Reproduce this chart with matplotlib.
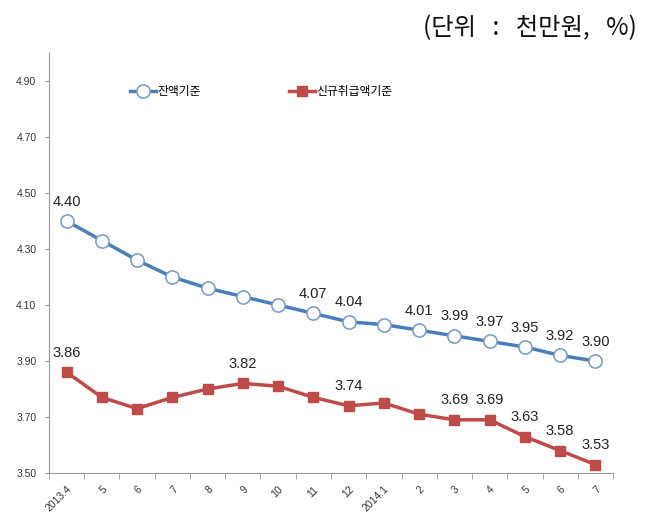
import matplotlib.pyplot as plt
import numpy as np

plt.rcParams['font.family'] = ['Noto Sans CJK KR', 'DejaVu Sans']

months = ['2013.4', '5', '6', '7', '8', '9', '10', '11', '12',
          '2014.1', '2', '3', '4', '5', '6', '7']
balance = [4.40, 4.33, 4.26, 4.20, 4.16, 4.13, 4.10, 4.07, 4.04,
           4.03, 4.01, 3.99, 3.97, 3.95, 3.92, 3.90]
new_loans = [3.86, 3.77, 3.73, 3.77, 3.80, 3.82, 3.81, 3.77, 3.74,
             3.75, 3.71, 3.69, 3.69, 3.63, 3.58, 3.53]
# which points carry a value label
balance_labeled = [0, 7, 8, 10, 11, 12, 13, 14, 15]
new_labeled = [0, 5, 8, 11, 12, 13, 14, 15]

blue = '#4a7ebb'
red = '#be4b48'
num_font = ['Liberation Sans', 'DejaVu Sans']

fig = plt.figure(figsize=(6.48, 5.17), dpi=100)
ax = fig.add_axes([0.0756, 0.0851, 0.8704, 0.8124])

x = np.arange(len(months))
ax.plot(x, balance, color=blue, lw=2.5, marker='o', ms=9.5,
        mfc='white', mec='#7f9fc8', mew=1.2, label='잔액기준')
ax.plot(x, new_loans, color=red, lw=2.5, marker='s', ms=7,
        mfc=red, mec=red, label='신규취급액기준')

for i in balance_labeled:
    ax.annotate(f'{balance[i]:.2f}', (x[i], balance[i]), xytext=(0, 14),
                textcoords='offset points', ha='center', va='center',
                fontsize=10.5, color='#222222', family=num_font)
for i in new_labeled:
    ax.annotate(f'{new_loans[i]:.2f}', (x[i], new_loans[i]), xytext=(0, 14),
                textcoords='offset points', ha='center', va='center',
                fontsize=10.5, color='#222222', family=num_font)

ax.set_xlim(-0.5, len(months) - 0.5)
ax.set_ylim(3.5, 5.0)
yt = np.arange(3.5, 4.91, 0.2)
ax.set_yticks(yt)
ax.set_yticklabels([f'{v:.2f}' for v in yt], fontsize=7.5, color='#333333',
                   family=num_font)
ax.set_xticks(x)
ax.set_xticklabels(months, rotation=45, ha='right', rotation_mode='anchor',
                   fontsize=7.5, color='#333333', family=num_font)
ax.tick_params(axis='x', which='major', length=0, pad=8)
ax.set_xticks(np.arange(-0.5, len(months)), minor=True)
ax.tick_params(axis='x', which='minor', length=4, color='#999999')
ax.tick_params(axis='y', length=3, color='#999999', pad=6)

for s in ['top', 'right']:
    ax.spines[s].set_visible(False)
for s in ['left', 'bottom']:
    ax.spines[s].set_color('#999999')

ax.legend(loc='upper left', bbox_to_anchor=(0.135, 0.935), ncol=2, frameon=False,
          fontsize=8.5, handlelength=2.2, handletextpad=0.1, columnspacing=7.5,
          borderaxespad=0)

fig.text(0.983, 0.945, '(단위   :   천만원,   %)', ha='right', va='center',
         fontsize=17.5, color='#111111')

fig.savefig('out.png', dpi=100)
